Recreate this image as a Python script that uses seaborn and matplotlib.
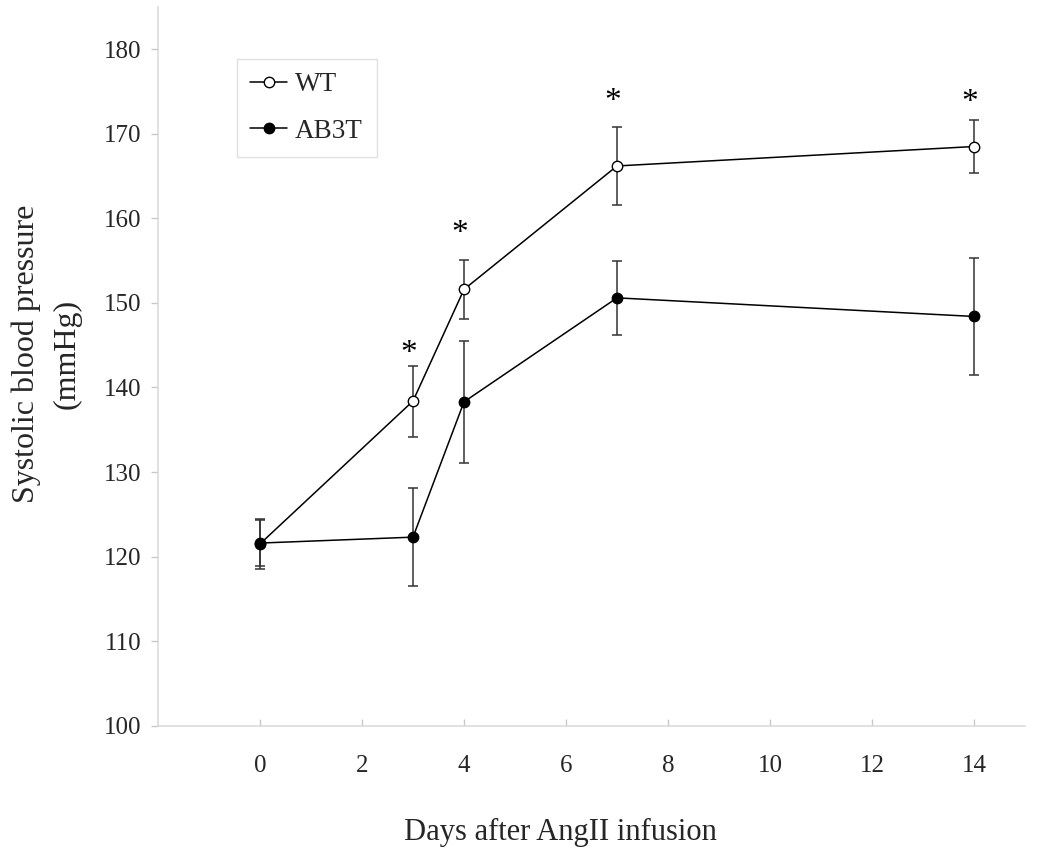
import matplotlib
matplotlib.use("Agg")
import matplotlib.pyplot as plt
import seaborn as sns
import pandas as pd

# ---- data ----
days = [0, 3, 4, 7, 14]
wt_mean = [121.5, 138.4, 151.6, 166.2, 168.5]
wt_err = [3.0, 4.2, 3.5, 4.6, 3.1]
ab3t_mean = [121.6, 122.3, 138.3, 150.6, 148.4]
ab3t_err = [2.7, 5.8, 7.2, 4.4, 6.9]
star_days = [3, 4, 7, 14]
star_y = [144.95, 159.1, 174.7, 174.6]
x_ticks = [0, 2, 4, 6, 8, 10, 12, 14]
y_ticks = [100, 110, 120, 130, 140, 150, 160, 170, 180]

sns.set_style("white")
plt.rcParams['font.family'] = ['Liberation Serif', 'DejaVu Serif']

fig = plt.figure(figsize=(10.5, 8.59), dpi=100)
ax = fig.add_axes([158/1050, 1-725.7/859, (1025-158)/1050, (725.7-7)/859])

df_wt = pd.DataFrame({"day": days, "sbp": wt_mean})
df_ab = pd.DataFrame({"day": days, "sbp": ab3t_mean})

ax.errorbar(days, wt_mean, yerr=wt_err, fmt='none', ecolor='#333333',
            elinewidth=1.1, capsize=3.3, capthick=1.1, zorder=2)
ax.errorbar(days, ab3t_mean, yerr=ab3t_err, fmt='none', ecolor='#333333',
            elinewidth=1.1, capsize=3.3, capthick=1.1, zorder=2)

sns.lineplot(data=df_wt, x="day", y="sbp", ax=ax, color="black", lw=1.1,
             marker="o", markersize=7.5, markerfacecolor="white",
             markeredgecolor="black", markeredgewidth=1.0, label="WT", zorder=3)
sns.lineplot(data=df_ab, x="day", y="sbp", ax=ax, color="black", lw=1.1,
             marker="o", markersize=7.5, markerfacecolor="black",
             markeredgecolor="black", markeredgewidth=1.0, label="AB3T", zorder=3)

for d, y in zip(star_days, star_y):
    ax.annotate("*", (d, y), xytext=(-3, -11.5), textcoords="offset points",
                ha="center", va="baseline", fontsize=24, color="black")

ax.set_xlim(-2, 15)
ax.set_ylim(100, 185)
ax.set_xticks(x_ticks)
ax.set_yticks(y_ticks)
ax.tick_params(axis='x', direction='in', length=5, width=1, color='#c8c8c8',
               pad=21, labelsize=18, bottom=True)
ax.tick_params(axis='y', direction='out', length=5, width=1, color='#c8c8c8',
               pad=7, labelsize=18, left=True)

for s in ["top", "right"]:
    ax.spines[s].set_visible(False)
for s in ["left", "bottom"]:
    ax.spines[s].set_color('#d9d9d9')
    ax.spines[s].set_linewidth(1.1)

ax.set_xlabel("Days after AngII infusion", fontsize=22)
ax.xaxis.set_label_coords(0.4637, -0.128)
ax.set_ylabel("Systolic blood pressure\n(mmHg)", fontsize=23,
              va="center", linespacing=1.5)
ax.yaxis.set_label_coords(-0.1286, 0.517)

leg = ax.legend(loc="upper left", bbox_to_anchor=(0.091, 0.928), borderaxespad=0,
                fontsize=19.5, frameon=True, fancybox=False, handlelength=1.35,
                handletextpad=0.3, labelspacing=0.8, borderpad=0.5)
leg.get_frame().set_edgecolor('#d9d9d9')
leg.get_frame().set_linewidth(1.0)

fig.savefig("out.png", dpi=100, facecolor="white")
